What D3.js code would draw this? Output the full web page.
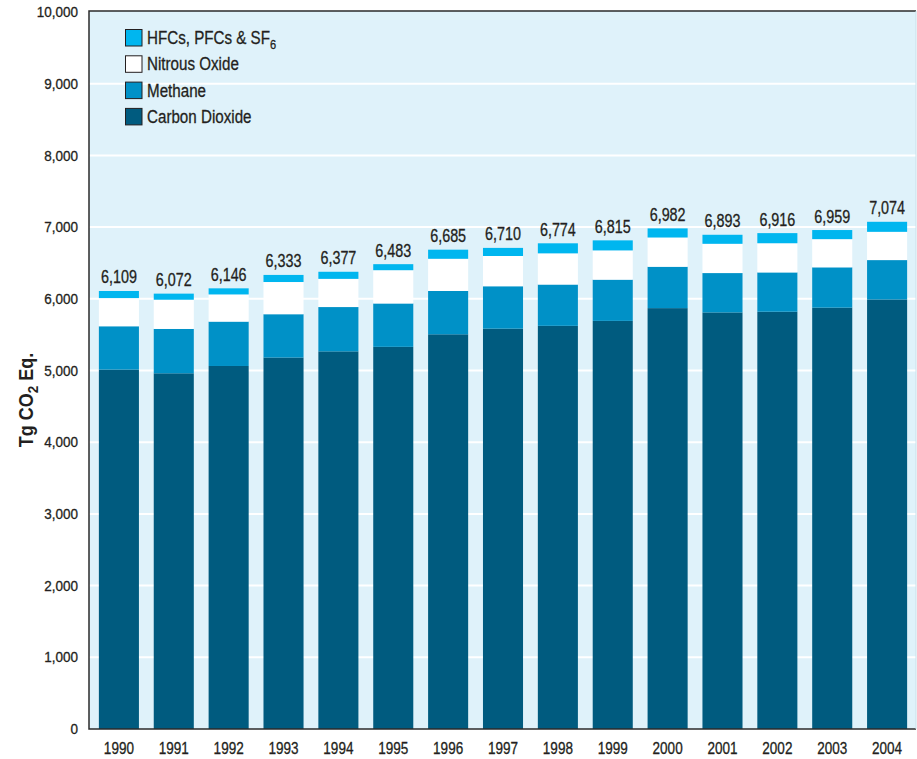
<!DOCTYPE html>
<html>
<head>
<meta charset="utf-8">
<script src="https://cdn.jsdelivr.net/npm/d3@7"></script>
<style>
  html, body { margin: 0; padding: 0; background: #ffffff; }
  svg { display: block; }
  text { font-family: "Liberation Sans", Arial, sans-serif; }
  .heavy { stroke: #231f20; stroke-width: 0.3px; }
</style>
</head>
<body>
<svg id="chart" width="917" height="759"></svg>
<script>
// U.S. greenhouse gas emissions by gas, Tg CO2 Eq.
const years = ["1990","1991","1992","1993","1994","1995","1996","1997","1998","1999","2000","2001","2002","2003","2004"];
const carbonDioxide = [5013, 4961, 5063, 5181, 5267, 5330, 5505, 5584, 5623, 5692, 5870, 5810, 5820, 5877, 5991];
const methane       = [604, 619, 619, 604, 618, 605, 604, 591, 576, 575, 577, 549, 548, 562, 549];
const nitrousOxide  = [393, 407, 379, 449, 393, 464, 449, 422, 435, 408, 408, 408, 407, 393, 394];
const hfcsPfcsSf6   = [99, 85, 85, 99, 99, 84, 127, 113, 140, 140, 127, 126, 141, 127, 140];
const totals        = [6109, 6072, 6146, 6333, 6377, 6483, 6685, 6710, 6774, 6815, 6982, 6893, 6916, 6959, 7074];
const yTicks = [0, 1000, 2000, 3000, 4000, 5000, 6000, 7000, 8000, 9000, 10000];

const seriesKeys = ["co2", "ch4", "n2o", "hfc"];
const colors = { co2: "#005b7f", ch4: "#0091c7", n2o: "#ffffff", hfc: "#00b6ef" };
const legendItems = [
  { key: "hfc", label: "HFCs, PFCs & SF", sub: "6" },
  { key: "n2o", label: "Nitrous Oxide" },
  { key: "ch4", label: "Methane" },
  { key: "co2", label: "Carbon Dioxide" }
];

const rows = years.map((yr, i) => ({
  year: yr, co2: carbonDioxide[i], ch4: methane[i], n2o: nitrousOxide[i], hfc: hfcsPfcsSf6[i], total: totals[i]
}));

// Horizontal squeeze that gives the regular sans a condensed look
const CONDENSE = "scale(0.82,1)";
const textColor = "#231f20";

const svg = d3.select("#chart");
const plotLeft = 89, plotRight = 916, plotTop = 11, plotBottom = 729;

const x = d3.scaleBand().domain(years).range([plotLeft, 917]).paddingInner(0.27).paddingOuter(0.18);
const y = d3.scaleLinear().domain([0, 10000]).range([plotBottom, 12]);

// Plot panel
svg.append("rect")
  .attr("x", plotLeft).attr("y", plotTop).attr("width", plotRight - plotLeft).attr("height", plotBottom - plotTop)
  .attr("fill", "#dff2fa");

// Horizontal gridlines
svg.append("g").selectAll("line").data(yTicks.filter(t => t > 0 && t < 10000)).join("line")
  .attr("x1", plotLeft).attr("x2", plotRight)
  .attr("y1", d => y(d)).attr("y2", d => y(d))
  .attr("stroke", "#ffffff").attr("stroke-width", 2);

// Stacked bars
const stack = d3.stack().keys(seriesKeys)(rows);
svg.append("g").selectAll("g").data(stack).join("g")
  .attr("fill", d => colors[d.key])
  .selectAll("rect").data(d => d).join("rect")
  .attr("x", d => x(d.data.year))
  .attr("width", x.bandwidth())
  .attr("y", d => y(d[1]))
  .attr("height", d => y(d[0]) - y(d[1]));

// Total labels above bars
svg.append("g").selectAll("g").data(rows).join("g")
  .attr("transform", d => `translate(${x(d.year) + x.bandwidth() / 2},${y(d.total) - 7.5})`)
  .append("text")
  .attr("class", "heavy")
  .attr("transform", CONDENSE)
  .attr("text-anchor", "middle")
  .attr("font-size", 17.5)
  .attr("fill", textColor)
  .text(d => d3.format(",")(d.total));

// Frame: top, left, bottom
svg.append("path")
  .attr("d", `M${plotRight},${plotTop}H${plotLeft}V${plotBottom}H${plotRight}`)
  .attr("fill", "none").attr("stroke", "#2b2b2b").attr("stroke-width", 1.5);
svg.append("line")
  .attr("x1", plotRight).attr("x2", plotRight).attr("y1", plotTop).attr("y2", plotBottom)
  .attr("stroke", "#c8e0ea").attr("stroke-width", 1);

// Y axis tick labels
const yAxis = d3.axisLeft(y).tickValues(yTicks).tickFormat(d3.format(",")).tickSize(0).tickPadding(11);
const gy = svg.append("g").attr("transform", `translate(${plotLeft},0)`).call(yAxis);
gy.select(".domain").remove();
gy.selectAll("text")
  .attr("class", "heavy")
  .attr("font-family", "'Liberation Sans', Arial, sans-serif")
  .attr("font-size", 14.5)
  .attr("fill", textColor)
  .attr("x", -11 / 0.93)
  .attr("transform", "scale(0.93,1)");

// X axis year labels
const xAxis = d3.axisBottom(x).tickSize(0).tickPadding(0);
const gx = svg.append("g").attr("transform", `translate(0,${plotBottom})`).call(xAxis);
gx.select(".domain").remove();
gx.selectAll("text")
  .attr("class", "heavy")
  .attr("font-family", "'Liberation Sans', Arial, sans-serif")
  .attr("font-size", 16.5)
  .attr("fill", textColor)
  .attr("dy", null)
  .attr("y", 25)
  .attr("transform", CONDENSE);

// Y axis title
const title = svg.append("text")
  .attr("transform", "translate(33,400) rotate(-90) scale(0.9,1)")
  .attr("text-anchor", "middle")
  .attr("font-size", 20)
  .attr("font-weight", "bold")
  .attr("fill", textColor);
title.append("tspan").text("Tg CO");
title.append("tspan").attr("font-size", 15).attr("dy", 5).text("2");
title.append("tspan").attr("dy", -5).text(" Eq.");

// Legend
const lg = svg.append("g").attr("transform", "translate(125,29)");
const item = lg.selectAll("g").data(legendItems).join("g")
  .attr("transform", (d, i) => `translate(0,${i * 26.3})`);
item.append("rect")
  .attr("x", 0.5).attr("y", 0.5).attr("width", 16.5).attr("height", 16.5)
  .attr("fill", d => colors[d.key])
  .attr("stroke", textColor).attr("stroke-width", 1);
const lt = item.append("g")
  .attr("transform", "translate(22,15)")
  .append("text")
  .attr("class", "heavy")
  .attr("transform", CONDENSE)
  .attr("font-size", 18.5)
  .attr("fill", textColor);
lt.append("tspan").text(d => d.label);
lt.filter(d => d.sub).append("tspan").attr("font-size", 13.5).attr("dy", 5).text(d => d.sub);
</script>
</body>
</html>
